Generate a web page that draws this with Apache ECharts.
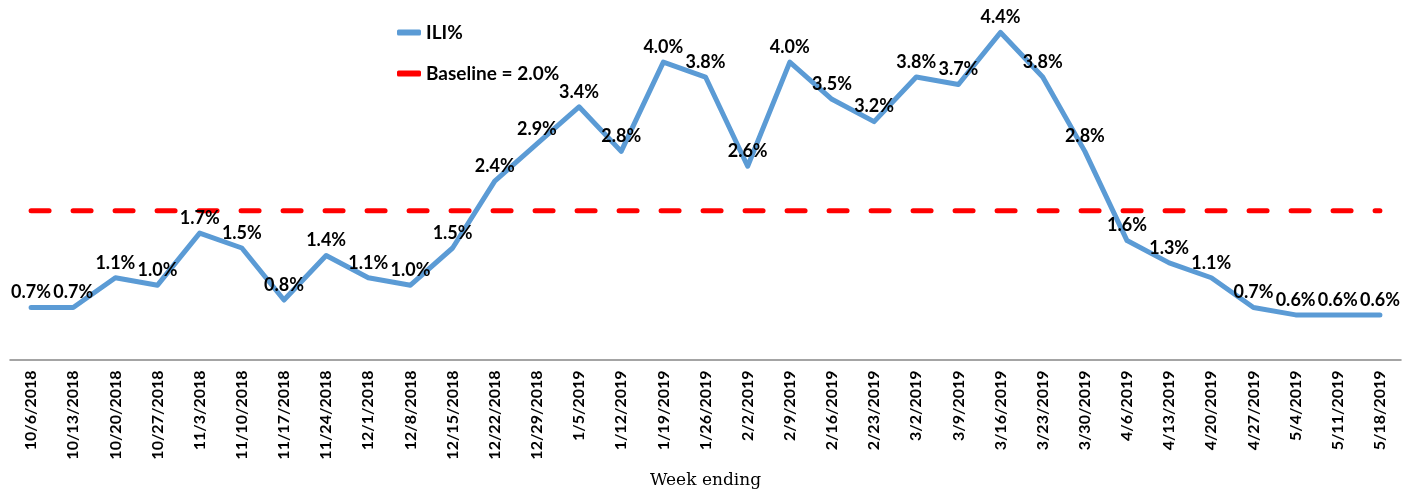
<!DOCTYPE html>
<html>
<head>
<meta charset="utf-8">
<script src="https://cdn.jsdelivr.net/npm/echarts@6/dist/echarts.min.js"></script>
<style>
  html, body { margin: 0; padding: 0; background: #fff; }
  #chart { width: 1412px; height: 495px; }
</style>
</head>
<body>
<div id="chart"></div>
<script>
// week-ending dates
const weeks = ['10/6/2018', '10/13/2018', '10/20/2018', '10/27/2018', '11/3/2018', '11/10/2018',
  '11/17/2018', '11/24/2018', '12/1/2018', '12/8/2018', '12/15/2018', '12/22/2018', '12/29/2018',
  '1/5/2019', '1/12/2019', '1/19/2019', '1/26/2019', '2/2/2019', '2/9/2019', '2/16/2019', '2/23/2019',
  '3/2/2019', '3/9/2019', '3/16/2019', '3/23/2019', '3/30/2019', '4/6/2019', '4/13/2019', '4/20/2019',
  '4/27/2019', '5/4/2019', '5/11/2019', '5/18/2019']
// ILI% per week
const iliValues = [0.7, 0.7, 1.1, 1.0, 1.7, 1.5, 0.8, 1.4, 1.1, 1.0, 1.5, 2.4, 2.9, 3.4, 2.8, 4.0,
  3.8, 2.6, 4.0, 3.5, 3.2, 3.8, 3.7, 4.4, 3.8, 2.8, 1.6, 1.3, 1.1, 0.7, 0.6, 0.6, 0.6]
const baselineValue = 2.0
const baselineValues = weeks.map(() => baselineValue)

const FONT = 'Lato'

const myChart = echarts.init(document.getElementById('chart'))
const option = {
  animation: false,
  legend: {
    orient: 'vertical',
    left: 392,
    top: 18,
    itemWidth: 24,
    itemHeight: 6,
    itemGap: 22,
    textStyle: { fontFamily: FONT, fontWeight: 'bold', fontSize: 19, color: '#000' },
    data: [
      { name: 'ILI%', icon: 'roundRect', itemStyle: { color: '#5B9BD5' } },
      { name: 'Baseline = 2.0%', icon: 'roundRect', itemStyle: { color: '#FF0000' } },
    ],
  },
  grid: { left: 10, right: 11, top: 25, bottom: 135.5, outerBoundsMode: 'none' },
  xAxis: {
    type: 'category',
    data: weeks,
    boundaryGap: true,
    name: 'Week ending',
    nameLocation: 'middle',
    nameGap: 113,
    nameTextStyle: { fontFamily: 'DejaVu Serif', fontSize: 17, color: '#000' },
    axisLine: { lineStyle: { color: '#868686', width: 1.5 } },
    axisTick: { alignWithLabel: true, length: 5, lineStyle: { color: '#868686' } },
    axisLabel: {
      rotate: 90,
      interval: 0,
      margin: 11,
      fontFamily: FONT,
      fontWeight: 'bold',
      fontSize: 16,
      color: '#000',
    },
  },
  yAxis: {
    type: 'value',
    min: 0,
    max: 4.5,
    show: false,
  },
  series: [
    {
      name: 'ILI%',
      type: 'line',
      data: iliValues,
      symbol: 'circle',
      symbolSize: 0,
      lineStyle: { color: '#5B9BD5', width: 5, join: 'round', cap: 'round' },
      itemStyle: { color: '#5B9BD5' },
      label: {
        show: true,
        position: 'top',
        distance: 6,
        fontFamily: FONT,
        fontWeight: 'bold',
        fontSize: 18,
        color: '#000',
        formatter: (p) => p.value.toFixed(1) + '%',
      },
      labelLayout: { hideOverlap: false },
      z: 3,
    },
    {
      name: 'Baseline = 2.0%',
      type: 'line',
      data: baselineValues,
      showSymbol: false,
      lineStyle: { color: '#FF0000', width: 5, type: [18, 24], cap: 'round' },
      itemStyle: { color: '#FF0000' },
      z: 2,
    },
  ],
}
myChart.setOption(option)
</script>
</body>
</html>
